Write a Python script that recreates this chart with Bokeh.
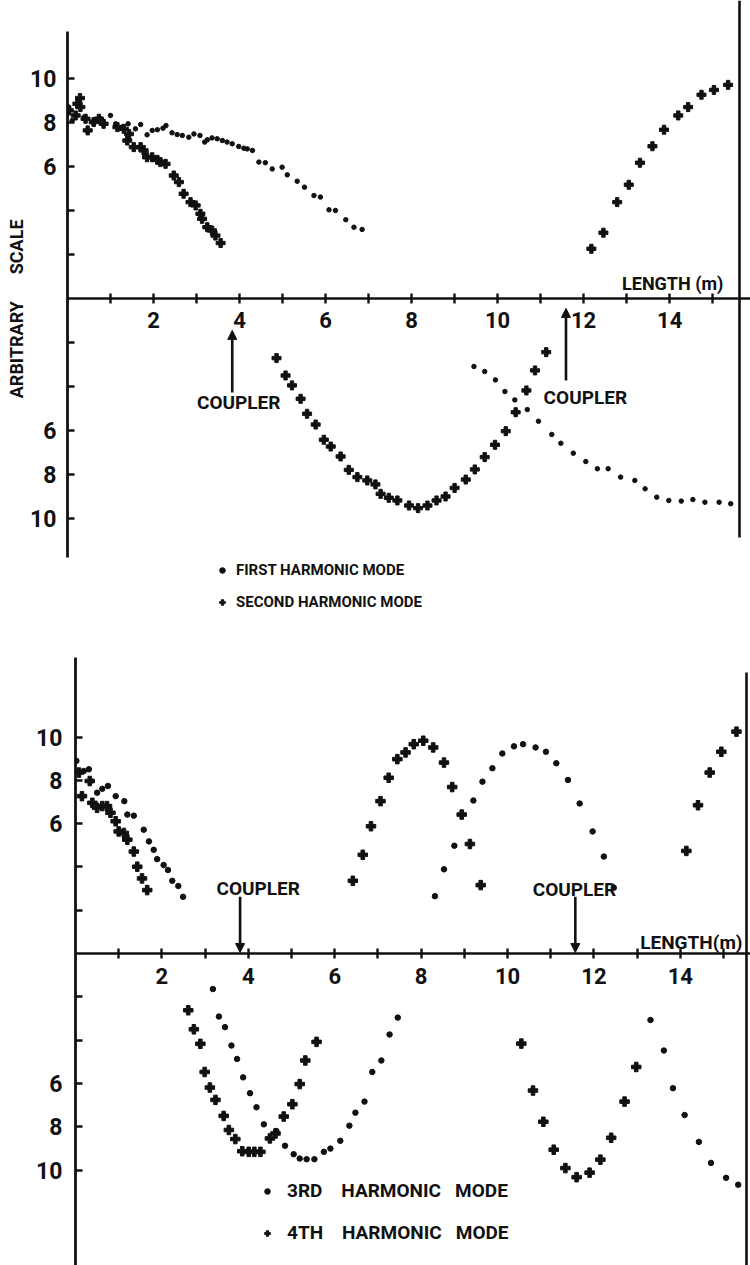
from bokeh.plotting import figure
from bokeh.models import (LinearAxis, FixedTicker, Legend, LegendItem, Arrow,
                          NormalHead, ColumnDataSource)
from bokeh.core.properties import value
from bokeh.embed import file_html
from bokeh.resources import INLINE

FONT = "Roboto"
NB = "\u00a0"

# ---------------- data (length in m, arbitrary scale; lower half negative) -------------
first_x = [0.03, 0.11, 0.38, 0.57, 0.77, 1.0, 1.12, 1.27, 1.41, 1.58, 1.70, 1.85, 1.97, 2.09,
           2.22, 2.29, 2.43, 2.55, 2.67, 2.82, 2.94, 3.08, 3.19, 3.25, 3.36, 3.48, 3.60, 3.71,
           3.83, 3.98, 4.10, 4.18, 4.30, 4.45, 4.60, 4.76, 4.99, 5.11, 5.34, 5.51, 5.73, 5.88,
           6.08, 6.23, 6.47, 6.66, 6.85,
           9.45, 9.70, 9.95, 10.17, 10.40, 10.69, 10.95, 11.26, 11.47, 11.76, 12.05, 12.32,
           12.57, 12.86, 13.19, 13.43, 13.70, 13.98, 14.27, 14.54, 14.82, 15.15, 15.42]
first_y = [8.70, 8.09, 8.24, 8.02, 8.17, 8.32, 7.94, 7.79, 7.94, 7.71, 7.91, 7.44, 7.64, 7.67,
           7.74, 7.86, 7.53, 7.45, 7.41, 7.33, 7.48, 7.41, 7.11, 7.21, 7.30, 7.26, 7.18, 7.11,
           7.03, 6.91, 6.83, 6.80, 6.73, 6.20, 6.17, 5.89, 5.97, 5.62, 5.33, 5.06, 4.68, 4.61,
           4.03, 4.00, 3.58, 3.24, 3.14,
           -3.09, -3.32, -3.70, -4.23, -4.61, -5.05, -5.58, -6.18, -6.58, -7.03, -7.41, -7.74,
           -7.74, -8.12, -8.27, -8.65, -9.03, -9.18, -9.21, -9.14, -9.26, -9.26, -9.33]

second_x = [0.03, 0.19, 0.23, 0.29, 0.30, 0.42, 0.47, 0.61, 0.73, 0.84, 1.16, 1.31, 1.39, 1.43,
            1.54, 1.70, 1.77, 1.85, 1.97, 2.09, 2.16, 2.28, 2.47, 2.59, 2.70, 2.86, 2.98, 3.09,
            3.13, 3.25, 3.36, 3.44, 3.56,
            4.86, 5.07, 5.22, 5.42, 5.57, 5.77, 5.96, 6.12, 6.35, 6.54, 6.74, 6.97, 7.16, 7.28,
            7.47, 7.67, 7.94, 8.15, 8.37, 8.58, 8.79, 9.00, 9.26, 9.47, 9.70, 9.94, 10.19,
            10.42, 10.67, 10.87, 11.13,
            12.18, 12.46, 12.78, 13.05, 13.31, 13.60, 13.87, 14.20, 14.43, 14.74, 15.03, 15.36]
second_y = [8.55, 8.32, 8.85, 9.11, 8.70, 8.17, 7.64, 8.02, 8.17, 7.94, 7.79, 7.71, 7.18, 7.48,
            6.88, 6.88, 6.73, 6.42, 6.42, 6.30, 6.20, 6.12, 5.59, 5.29, 4.76, 4.38, 4.23, 3.85,
            3.62, 3.24, 3.09, 2.86, 2.52,
            -2.71, -3.50, -3.95, -4.56, -5.24, -5.73, -6.42, -6.73, -7.18, -7.79, -8.12, -8.27,
            -8.45, -8.88, -9.06, -9.18, -9.41, -9.53, -9.41, -9.18, -9.00, -8.61, -8.23, -7.77,
            -7.21, -6.65, -6.03, -5.17, -4.18, -3.27, -2.44,
            2.26, 2.99, 4.38, 5.17, 6.17, 6.92, 7.67, 8.32, 8.70, 9.26, 9.48, 9.71]

third_x = [0.02, 0.19, 0.31, 0.35, 0.50, 0.62, 0.75, 0.93, 1.13, 1.20, 1.35, 1.58, 1.70, 1.81,
           1.89, 2.04, 2.14, 2.24, 2.38, 2.49,
           3.18, 3.32, 3.46, 3.61, 3.74, 3.88, 4.04, 4.19, 4.36, 4.65, 4.85, 5.05, 5.19, 5.35,
           5.53, 5.75, 5.90, 6.13, 6.34, 6.48, 6.69, 6.87, 7.08, 7.27, 7.46,
           8.32, 8.53, 8.77, 9.21, 9.42, 9.65, 9.88, 10.15, 10.36, 10.65, 10.89, 11.13, 11.40,
           11.67, 11.97, 12.23, 12.46,
           13.31, 13.62, 13.83, 14.10, 14.43, 14.71, 15.06, 15.34]
third_y = [8.90, 8.43, 8.51, 7.97, 7.43, 7.61, 7.74, 7.27, 7.04, 6.42, 6.37, 5.72, 5.18, 4.79,
           4.36, 4.09, 3.86, 3.36, 3.12, 2.62,
           -1.64, -2.91, -3.40, -4.25, -4.87, -5.72, -6.45, -7.10, -7.89, -8.20, -8.88, -9.27,
           -9.47, -9.50, -9.50, -9.16, -9.01, -8.65, -7.95, -7.35, -6.84, -5.47, -4.94, -3.74,
           -2.96,
           2.65, 3.89, 4.98, 7.07, 7.94, 8.56, 9.24, 9.57, 9.67, 9.52, 9.32, 8.79, 8.02,
           6.93, 5.64, 4.48, 3.04,
           -3.07, -4.48, -6.22, -7.46, -8.70, -9.67, -10.36, -10.68]

fourth_x = [0.08, 0.15, 0.33, 0.39, 0.50, 0.62, 0.73, 0.81, 0.93, 1.00, 1.12, 1.20, 1.35, 1.43,
            1.54, 1.66,
            2.61, 2.74, 2.89, 2.99, 3.11, 3.24, 3.43, 3.55, 3.70, 3.86, 4.01, 4.14, 4.28, 4.50,
            4.63, 4.82, 5.02, 5.19, 5.32, 5.58,
            6.42, 6.65, 6.84, 7.06, 7.25, 7.45, 7.64, 7.83, 8.05, 8.28, 8.53, 8.72, 8.94, 9.13,
            9.38,
            10.32, 10.59, 10.83, 11.07, 11.34, 11.60, 11.90, 12.15, 12.40, 12.71, 12.98,
            14.14, 14.41, 14.68, 14.95, 15.30]
fourth_y = [8.36, 7.27, 7.97, 6.96, 6.73, 6.81, 6.81, 6.50, 6.11, 5.64, 5.57, 5.26, 4.71, 4.01,
            3.47, 2.93,
            -2.62, -3.50, -4.17, -5.47, -6.19, -6.76, -7.50, -8.15, -8.57, -9.13, -9.16, -9.16,
            -9.16, -8.54, -8.31, -7.53, -6.96, -6.03, -4.94, -4.08,
            3.36, 4.56, 5.88, 7.04, 8.12, 8.98, 9.29, 9.67, 9.83, 9.52, 8.82, 7.69, 6.42, 5.06,
            3.16,
            -4.16, -6.33, -7.77, -9.06, -9.91, -10.33, -10.12, -9.52, -8.51, -6.84, -5.24,
            4.74, 6.85, 8.36, 9.32, 10.25]

x_ticks = list(range(1, 16))
x_tick_labels = {t: (str(t) if t % 2 == 0 else "") for t in x_ticks}
y_ticks = [-10, -8, -6, -4, -2, 2, 4, 6, 8, 10]
y_tick_labels = {-10: "10", -8: "8", -6: "6", -4: "", -2: "", 2: "", 4: "", 6: "6", 8: "8", 10: "10"}

coupler_x = [3.83, 11.59]
length_label = ["LENGTH (m)", "LENGTH(m)"]
y_label = NB * 7 + "ARBITRARY" + NB * 6 + "SCALE"
legend_top = ["FIRST HARMONIC MODE", "SECOND HARMONIC MODE"]
legend_bot = ["3RD" + NB * 4 + "HARMONIC" + NB * 3 + "MODE",
              "4TH" + NB * 4 + "HARMONIC" + NB * 3 + "MODE"]

INK = "#111111"


def make_panel(height, x_start, x_end, y_start, y_end, left_border, yaxis_bounds, right_x,
               right_bounds, ylab_standoff):
    p = figure(width=750, height=height, x_range=(x_start, x_end), y_range=(y_start, y_end),
               output_backend="svg", toolbar_location=None,
               x_axis_location=None, y_axis_location=None,
               min_border_left=left_border, min_border_right=0, min_border_top=0,
               min_border_bottom=0)
    p.outline_line_color = None
    p.xgrid.visible = False
    p.ygrid.visible = False
    p.background_fill_color = "white"
    p.border_fill_color = "white"

    xa = LinearAxis(fixed_location=0, ticker=FixedTicker(ticks=x_ticks),
                    major_label_overrides=x_tick_labels)
    xa.axis_line_width = 2.6
    xa.axis_line_color = INK
    xa.major_tick_line_width = 2.4
    xa.major_tick_line_color = INK
    xa.major_tick_in = 5
    xa.major_tick_out = 5
    xa.minor_tick_line_color = None
    xa.major_label_standoff = 9
    xa.major_label_text_font = FONT
    xa.major_label_text_font_style = "bold"
    xa.major_label_text_font_size = "22px"
    xa.major_label_text_color = INK
    p.add_layout(xa, "below")

    ya = LinearAxis(ticker=FixedTicker(ticks=y_ticks),
                    major_label_overrides=y_tick_labels, bounds=yaxis_bounds)
    ya.axis_line_width = 2.8
    ya.axis_line_color = INK
    ya.major_tick_line_width = 2.4
    ya.major_tick_line_color = INK
    ya.major_tick_in = 7
    ya.major_tick_out = 0
    ya.minor_tick_line_color = None
    ya.major_label_standoff = ylab_standoff
    ya.major_label_text_font = FONT
    ya.major_label_text_font_style = "bold"
    ya.major_label_text_font_size = "23px"
    ya.major_label_text_color = INK
    p.add_layout(ya, "left")

    ra = LinearAxis(fixed_location=right_x, ticker=FixedTicker(ticks=[]), bounds=right_bounds)
    ra.axis_line_width = 2.6
    ra.axis_line_color = INK
    ra.major_tick_line_color = None
    ra.minor_tick_line_color = None
    ra.major_label_text_font_size = "0px"
    p.add_layout(ra, "right")
    return p, ya


def style_legend(lg, spacing, font_size, standoff):
    lg.border_line_color = None
    lg.background_fill_alpha = 0
    lg.padding = 0
    lg.margin = 0
    lg.glyph_width = 14
    lg.glyph_height = 20
    lg.label_height = 20
    lg.spacing = spacing
    lg.label_standoff = standoff
    lg.label_text_font = FONT
    lg.label_text_font_style = "bold"
    lg.label_text_font_size = font_size
    lg.label_text_color = INK


# ---------------- top panel ----------------
# frame: x from page 67 (43 px/m), y zero at page 298 (22 px/unit), height 648
top, top_ya = make_panel(648, 0.0, 15.88, -15.91, 13.545, 67, (-11.77, 12.14), 15.63,
                         (-10.86, 13.545), 11)
top_ya.axis_label = y_label
top_ya.axis_label_text_font = FONT
top_ya.axis_label_text_font_style = "bold"
top_ya.axis_label_text_font_size = "18px"
top_ya.axis_label_text_color = INK
top_ya.axis_label_standoff = 0

r1 = top.scatter(first_x, first_y, marker="circle", size=4.5, color=INK)
r2 = top.scatter(second_x, second_y, marker="plus", size=9, color=INK)

top_src = ColumnDataSource(dict(x=[coupler_x[0] + 0.15, coupler_x[1] + 0.45],
                                y=[-4.73, -4.5], t=["COUPLER", "COUPLER"]))
top.text("x", "y", "t", source=top_src, text_font=value(FONT), text_font_style="bold",
         text_font_size="19px", text_align="center", text_baseline="middle", color=INK)
top.text([15.25], [0.68], [length_label[0]], text_font=value(FONT), text_font_style="bold",
         text_font_size="18px", text_align="right", text_baseline="middle", color=INK)
for cx, y0, y1 in zip(coupler_x, [-4.27, -3.73], [-1.45, -0.45]):
    top.add_layout(Arrow(end=NormalHead(size=9, fill_color=INK, line_color=INK, line_width=1),
                         x_start=cx, y_start=y0, x_end=cx, y_end=y1,
                         line_width=2.6, line_color=INK))

leg1 = Legend(items=[LegendItem(label=legend_top[0], renderers=[r1]),
                     LegendItem(label=legend_top[1], renderers=[r2])],
              location=(148, 36), orientation="vertical")
style_legend(leg1, 12, "15px", 7)
top.add_layout(leg1)

# ---------------- bottom panel ----------------
# frame: x from page 75 (43.2 px/m), y zero at page 953 (21.65 px/unit), height 617
bot, bot_ya = make_panel(617, 0.0, 15.625, -14.41, 14.09, 75, (-14.41, 13.67), 15.53,
                         (-14.41, 12.98), 13)

r3 = bot.scatter(third_x, third_y, marker="circle", size=5.5, color=INK)
r4 = bot.scatter(fourth_x, fourth_y, marker="plus", size=9.5, color=INK)

bot_src = ColumnDataSource(dict(x=[coupler_x[0] + 0.40, coupler_x[1] - 0.04],
                                y=[3.0, 2.96], t=["COUPLER", "COUPLER"]))
bot.text("x", "y", "t", source=bot_src, text_font=value(FONT), text_font_style="bold",
         text_font_size="19px", text_align="center", text_baseline="middle", color=INK)
bot.text([15.44], [0.5], [length_label[1]], text_font=value(FONT), text_font_style="bold",
         text_font_size="19px", text_align="right", text_baseline="middle", color=INK)
for cx in coupler_x:
    bot.add_layout(Arrow(end=NormalHead(size=9, fill_color=INK, line_color=INK, line_width=1),
                         x_start=cx - 0.02, y_start=2.62, x_end=cx - 0.02, y_end=0.05,
                         line_width=2.6, line_color=INK))

leg2 = Legend(items=[LegendItem(label=legend_bot[0], renderers=[r3]),
                     LegendItem(label=legend_bot[1], renderers=[r4])],
              location=(185, 21), orientation="vertical")
style_legend(leg2, 19, "19px", 13)
bot.add_layout(leg2)

# two independent roots stacked on the page (no frame alignment between them)
open("out.html", "w").write(file_html([top, bot], INLINE))
